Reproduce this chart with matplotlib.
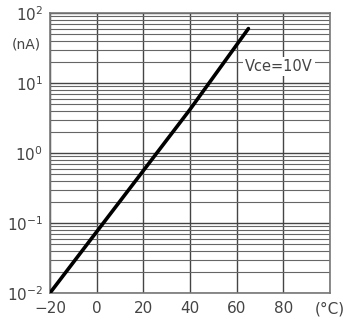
import matplotlib.pyplot as plt
from matplotlib.ticker import LogLocator, NullFormatter

# values
temps = [-20, 0, 20, 40, 65]
current_na = [0.01, 0.075, 0.56, 4.2, 60]
x_ticks = [-20, 0, 20, 40, 60, 80, 100]
x_labels = ["\u221220", "0", "20", "40", "60", "80", "(\u00b0C)"]
y_ticks = [0.01, 0.1, 1, 10, 100]
y_labels = ["$10^{-2}$", "$10^{-1}$", "$10^{0}$", "$10^{1}$", "$10^{2}$"]

fig = plt.figure(figsize=(3.49, 3.26), dpi=100)
ax = fig.add_axes([0.143, 0.101, 0.803, 0.859])

ax.plot(temps, current_na, color="black", lw=2.6, solid_capstyle="round", zorder=3)

ax.set_yscale("log")
ax.set_xlim(-20, 100)
ax.set_ylim(0.01, 100)
ax.set_xticks(x_ticks)
ax.set_xticklabels(x_labels)
ax.set_yticks(y_ticks)
ax.set_yticklabels(y_labels)
ax.yaxis.set_minor_locator(LogLocator(base=10, subs=range(2, 10)))
ax.yaxis.set_minor_formatter(NullFormatter())
ax.tick_params(which="both", length=0, labelsize=11, colors="#444444")
ax.tick_params(axis="x", pad=6)
ax.tick_params(axis="y", pad=5)

ax.grid(True, which="major", axis="both", color="#444444", lw=1.0)
ax.grid(True, which="minor", axis="y", color="#666666", lw=0.8)
for s in ax.spines.values():
    s.set_color("#777777")
    s.set_linewidth(1.2)

ax.text(78, 17, "Vce=10V", fontsize=10.5, color="#444444", ha="center", va="center",
        bbox=dict(facecolor="white", edgecolor="none", pad=1.5), zorder=4)
fig.text(0.075, 0.865, "(nA)", fontsize=10, color="#444444", ha="center", va="center")

fig.savefig("out.png", dpi=100)
